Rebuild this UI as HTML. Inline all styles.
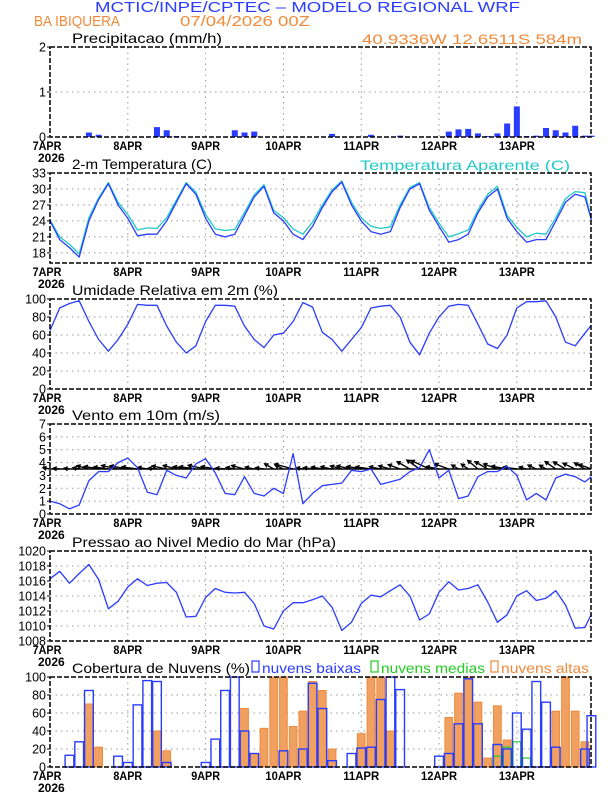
<!DOCTYPE html>
<html><head><meta charset="utf-8"><style>
html,body{margin:0;padding:0;background:#fff}
svg{display:block}
text{font-family:"Liberation Sans",sans-serif}
</style></head><body>
<svg id="chart" width="612" height="792" viewBox="0 0 612 792" xmlns="http://www.w3.org/2000/svg">
<text x="95" y="12" textLength="425" lengthAdjust="spacingAndGlyphs" font-size="15" fill="#2a3cff">MCTIC/INPE/CPTEC – MODELO REGIONAL WRF</text>
<text x="34" y="26" textLength="86" lengthAdjust="spacingAndGlyphs" font-size="14.5" fill="#f08a3a">BA IBIQUERA</text>
<text x="180" y="26" textLength="130" lengthAdjust="spacingAndGlyphs" font-size="14.5" fill="#f08a3a">07/04/2026 00Z</text>
<text x="362" y="44" textLength="220" lengthAdjust="spacingAndGlyphs" font-size="14" fill="#f08a3a">40.9336W 12.6511S 584m</text>
<text x="360" y="170" textLength="210" lengthAdjust="spacingAndGlyphs" font-size="14" fill="#22c8c8">Temperatura Aparente (C)</text>
</svg>
<script>
const hours=[0,3,6,9,12,15,18,21,24,27,30,33,36,39,42,45,48,51,54,57,60,63,66,69,72,75,78,81,84,87,90,93,96,99,102,105,108,111,114,117,120,123,126,129,132,135,138,141,144,147,150,153,156,159,162,165,167];
const precip=[0,0,0,0,0.1,0.05,0,0,0,0,0,0.22,0.15,0.02,0,0,0,0,0,0.15,0.1,0.12,0,0,0,0,0,0,0,0.07,0,0,0,0.05,0,0,0.03,0,0,0,0,0.12,0.17,0.18,0.08,0.02,0.08,0.3,0.68,0.02,0.03,0.2,0.15,0.1,0.25,0.03,0.03];
const temp=[24,20.5,19,17.2,24,28,31,27,24.5,21.2,21.5,21.5,24,27.5,31,29,24.5,21.5,21,21.5,25,28.5,30.5,25.5,24,21.5,20.5,23,26.5,29.5,31.3,27,24,22,21.5,22,26.5,30,31,26,23,20,20.5,21.5,25.5,28.5,30,24.5,22,20,20.5,20.5,24,27.5,29,28.5,24.2];
const tempAp=[24.2,21,19.6,17.8,24.6,28.3,31.2,27.5,25.2,22.3,22.7,22.6,24.6,27.9,31.2,29.4,25.2,22.5,22.2,22.4,25.6,28.9,30.8,26,24.6,22.5,21.5,23.8,27,29.8,31.5,27.5,24.6,23,22.6,22.9,27,30.3,31.2,26.5,23.6,21,21.6,22.3,26,29,30.5,25,22.8,21,21.7,21.5,24.6,28.2,29.5,29.3,24.3];
const rh=[65,90,95,98,75,55,42,55,72,94,93,93,70,52,40,48,75,93,93,92,70,55,46,60,62,75,96,91,63,55,42,55,68,90,92,93,80,52,38,62,80,92,94,93,72,50,45,60,90,97,97,98,80,52,48,62,71];
const wind=[1.0,0.8,0.4,0.7,2.6,3.3,3.3,4.0,4.35,3.6,1.7,1.5,3.4,3.0,2.8,3.9,4.3,3.2,1.6,1.5,2.9,1.6,1.4,2.0,1.6,4.7,0.8,1.6,2.2,2.3,2.4,3.4,3.3,3.5,2.3,2.5,2.7,3.3,3.6,5.0,2.8,3.4,1.2,1.4,2.9,3.3,3.3,3.7,3.0,1.1,1.6,1.1,2.8,3.1,2.9,2.5,2.9];
const windDir=[10,5,8,12,15,10,8,12,10,8,10,5,12,15,10,8,12,10,6,10,15,12,8,30,25,15,10,8,10,12,15,12,10,8,12,15,20,30,35,25,10,20,30,35,40,30,20,10,8,15,25,30,35,30,25,30,20];
const pres=[1016.3,1017.3,1015.7,1017,1018.2,1016.2,1012.3,1013.3,1015.2,1016.3,1015.4,1015.7,1015.8,1014.5,1011.2,1011.3,1013.8,1015,1014.5,1014.4,1014.5,1013,1010,1009.6,1012,1013.1,1013.1,1013.5,1014,1012.5,1009.4,1010.5,1013,1014.1,1013.9,1014.7,1015.5,1014,1010.8,1011.6,1014.5,1015.9,1014.8,1015,1015.5,1013.2,1010.5,1011.5,1014,1014.7,1013.4,1013.7,1014.7,1012.8,1009.7,1009.8,1011.6];
const cloudLow=[0,0,13,28,85,0,0,12,5,69,96,95,5,0,0,0,5,31,85,100,40,15,0,0,18,0,20,93,65,7,0,15,21,22,75,100,86,0,0,0,12,15,48,98,48,0,25,20,60,42,95,72,22,0,0,20,57];
const cloudMid=[0,0,0,0,0,0,0,0,0,0,0,0,0,0,0,0,0,0,0,0,0,0,0,0,0,0,0,0,0,0,0,0,0,0,0,0,0,0,0,0,0,0,0,0,0,0,12,22,28,10,0,0,0,0,0,0,0];
const cloudHigh=[0,0,0,0,70,22,0,0,0,0,0,40,18,0,0,0,0,0,0,0,65,15,43,100,100,45,62,95,85,20,0,0,37,100,100,40,0,0,0,0,0,55,82,100,72,10,68,30,0,0,0,0,62,100,62,28,0];
const dayLabels=["7APR","8APR","9APR","10APR","11APR","12APR","13APR"];

const svg=document.getElementById('chart');
const NS='http://www.w3.org/2000/svg';
const X0=50, PXH=3.242, PW=541, PH=90;
function x(h){return X0+h*PXH;}
function mk(tag,attrs,parent){const e=document.createElementNS(NS,tag);for(const k in attrs)e.setAttribute(k,attrs[k]);(parent||svg).appendChild(e);return e;}
function yScale(top,min,max){return v=>top+PH-(v-min)/(max-min)*PH;}

function panel(name,top,min,max,ticks,title,tlen){
  const g=mk('g',{});
  
  
  const y=yScale(top,min,max);
  for(const t of ticks){ if(t===min||t===max) continue;
    const l=mk('line',{x1:X0,x2:X0+PW,y1:y(t),y2:y(t),stroke:'#999','stroke-width':1,'stroke-dasharray':'1.5,4'},g);
    }
  for(let d=1;d<7;d++){
    const l=mk('line',{x1:x(d*24),x2:x(d*24),y1:top,y2:top+PH,stroke:'#999','stroke-width':1,'stroke-dasharray':'1.5,4'},g);
    }
  for(const t of ticks){
    const tx=mk('text',{x:X0-4,y:y(t)+4.5,'text-anchor':'end','font-size':12.5,fill:'#000'},g);
    tx.textContent=t;
    
    mk('line',{x1:X0-3,x2:X0,y1:y(t),y2:y(t),stroke:'#000'},g);
  }
  dayLabels.forEach((d,i)=>{
    const tx=mk('text',{x:x(i*24)+(i===0?-3:0),y:top+PH+13,'text-anchor':'middle','font-size':12,fill:'#000','font-weight':'bold'},g);
    tx.textContent=d;tx.setAttribute('textLength',d.length*7.2);tx.setAttribute('lengthAdjust','spacingAndGlyphs');
    
  });
  const yr=mk('text',{x:38,y:top+PH+25,'font-size':12,fill:'#000','font-weight':'bold'},g);
  yr.textContent='2026';
  if(title){const tt=mk('text',{x:72,y:top-4,'font-size':14,fill:'#000',textLength:tlen,lengthAdjust:'spacingAndGlyphs'},g);
    tt.textContent=title;}
  return {g,y,top};
}
function frame(g,top){
  const r=mk('rect',{x:X0,y:top,width:PW,height:PH,fill:'none',stroke:'#000','stroke-width':1.5,'stroke-dasharray':'5,2'},g);
  
}
function line(g,yf,vals,color,name){
  const d=vals.map((v,i)=>(i?'L':'M')+x(hours[i]).toFixed(1)+','+yf(v).toFixed(1)).join('');
  const p=mk('path',{d,fill:'none',stroke:color,'stroke-width':1.3,'stroke-linejoin':'round'},g);
  
}

let P=panel('precip',47,0,2,[0,1,2],'Precipitacao (mm/h)',150);
precip.forEach((v,i)=>{ if(v<=0) return;
  const b=mk('rect',{x:x(hours[i])-3,y:P.y(v),width:6,height:P.y(0)-P.y(v),fill:'#2a3cff'},P.g);
  });
frame(P.g,47);

let T=panel('temp',173,16.1,33,[18,21,24,27,30,33],'2-m Temperatura (C)',140);
line(T.g,T.y,tempAp,'#22c8c8','apparent-temp-line');
line(T.g,T.y,temp,'#2a3cff','temp-line');
frame(T.g,173);

let R=panel('rh',299,0,100,[0,20,40,60,80,100],'Umidade Relativa em 2m (%)',206);
line(R.g,R.y,rh,'#2a3cff','rh-line');
frame(R.g,299);

let W=panel('wind',424,0,7,[0,1,2,3,4,5,6,7],'Vento em 10m (m/s)',148);
const base=W.y(3.5);
mk('line',{x1:X0,x2:X0+PW,y1:base,y2:base,stroke:'#000','stroke-width':1.5},W.g);
wind.forEach((v,i)=>{
  const a=windDir[i]*Math.PI/180, L=4+v*3.2;
  const x1=x(hours[i]), x2=x1-L*Math.cos(a), y2=base-L*Math.sin(a);
  const ar=mk('path',{d:`M${x1},${base}L${x2},${y2}M${x2+4*Math.cos(a-0.5)},${y2+4*Math.sin(a-0.5)}L${x2},${y2}L${x2+4*Math.cos(a+0.5)},${y2+4*Math.sin(a+0.5)}`,stroke:'#000','stroke-width':1.4,fill:'none'},W.g);
  
});
line(W.g,W.y,wind,'#2a3cff','wind-speed-line');
frame(W.g,424);

let PR=panel('pressure',551,1008,1020,[1008,1010,1012,1014,1016,1018,1020],'Pressao ao Nivel Medio do Mar (hPa)',264);
line(PR.g,PR.y,pres,'#2a3cff','pressure-line');
frame(PR.g,551);

let C=panel('clouds',677,0,100,[0,20,40,60,80,100],'Cobertura de Nuvens (%)',178);
const BW=3*PXH;
cloudHigh.forEach((v,i)=>{ if(v<=0) return;
  const b=mk('rect',{x:x(hours[i])-BW/2+1,y:C.y(v),width:BW-2,height:C.y(0)-C.y(v),fill:'#f0a060',stroke:'#f08a3a','stroke-width':1},C.g);
  });
cloudMid.forEach((v,i)=>{ if(v<=0) return;
  const b=mk('rect',{x:x(hours[i])-BW/2+1,y:C.y(v),width:BW-2,height:C.y(0)-C.y(v),fill:'none',stroke:'#22cc22','stroke-width':1.2},C.g);
  });
cloudLow.forEach((v,i)=>{
  const b=mk('rect',{x:x(hours[i])-BW/2+0.5,y:C.y(v),width:BW-1,height:C.y(0)-C.y(v),fill:'none',stroke:'#2a3cff','stroke-width':1.4},C.g);
  });
frame(C.g,677);
const leg=[['nuvens baixas','#2a3cff',252,99],['nuvens medias','#22cc22',371,104],['nuvens altas','#f08a3a',491,88]];
leg.forEach(([t,c,lx,tl])=>{
  const r=mk('rect',{x:lx,y:661,width:7,height:11,fill:'none',stroke:c,'stroke-width':1.2});
  
  const tx=mk('text',{x:lx+10,y:673,'font-size':14,fill:c,textLength:tl,lengthAdjust:'spacingAndGlyphs'});
  tx.textContent=t;
});
</script>
</body></html>
